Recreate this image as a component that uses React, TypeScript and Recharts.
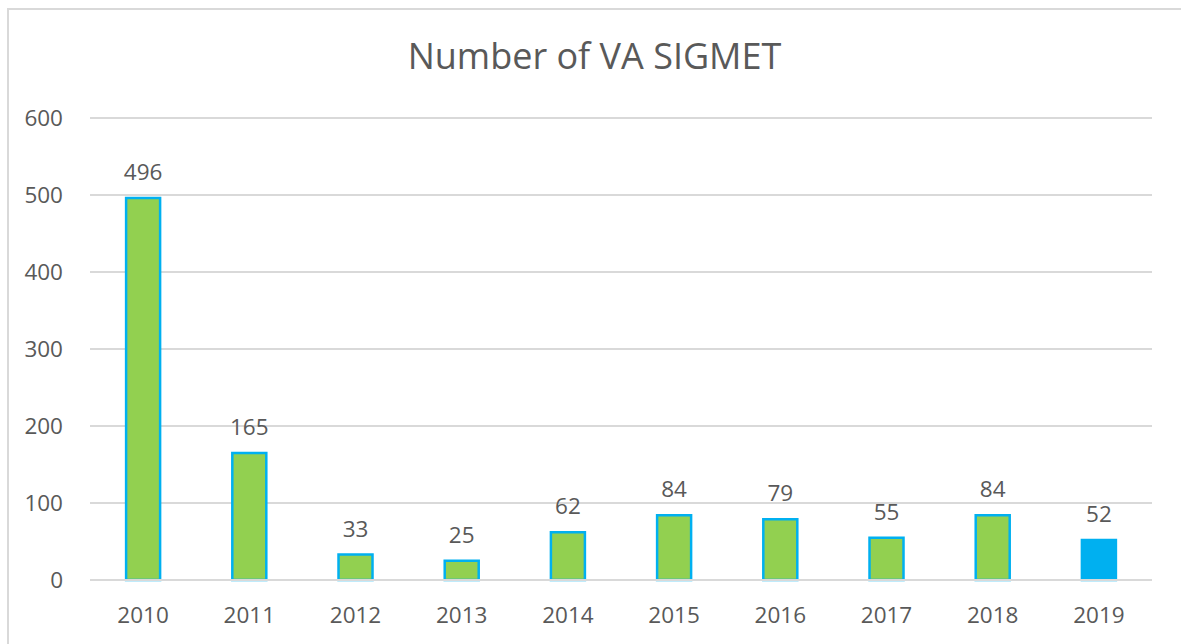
import React from "react";
import { BarChart, Bar, XAxis, YAxis, CartesianGrid, LabelList, Cell } from "recharts";

const years = ["2010", "2011", "2012", "2013", "2014", "2015", "2016", "2017", "2018", "2019"];
const counts = [496, 165, 33, 25, 62, 84, 79, 55, 84, 52];
const yTicks = [0, 100, 200, 300, 400, 500, 600];
const title = "Number of VA SIGMET";

const data = years.map((y, i) => ({ year: y, count: counts[i] }));

const FONT = "'Open Sans', 'Noto Sans', sans-serif";
const TEXT = "#595959";
const GREEN = "#92D050";
const BLUE = "#00B0F0";

export default function App() {
  return (
    <div style={{ position: "absolute", left: 0, top: 0, width: 1181, height: 644, background: "#fff", overflow: "hidden" }}>
      <div style={{ position: "absolute", left: 7, top: 8, width: 1200, height: 700, border: "2px solid #d9d9d9", boxSizing: "border-box" }} />
      <div style={{ position: "absolute", left: 4, top: 31, width: 1181, textAlign: "center", fontFamily: FONT, fontSize: 36, color: TEXT, whiteSpace: "nowrap" }}>
        {title}
      </div>
      <div style={{ position: "absolute", left: 0, top: 0 }}>
        <BarChart width={1181} height={644} data={data} margin={{ top: 118, right: 29, bottom: 24, left: 0 }} barCategoryGap="34%">
          <CartesianGrid vertical={false} stroke="#d9d9d9" strokeWidth={2} />
          <XAxis
            dataKey="year"
            height={40}
            axisLine={{ stroke: "#d9d9d9", strokeWidth: 2 }}
            tickLine={false}
            tickSize={0}
            tickMargin={27}
            tick={{ fill: TEXT, fontSize: 22.5, fontFamily: FONT }}
          />
          <YAxis
            width={90}
            domain={[0, 600]}
            ticks={yTicks}
            axisLine={false}
            tickLine={false}
            tickSize={0}
            tickMargin={27}
            tick={{ fill: TEXT, fontSize: 22.5, fontFamily: FONT }}
          />
          <Bar dataKey="count" fill={GREEN} stroke={BLUE} strokeWidth={2.5} isAnimationActive={false}>
            {data.map((d, i) => (
              <Cell key={d.year} fill={i === data.length - 1 ? BLUE : GREEN} />
            ))}
            <LabelList dataKey="count" position="top" offset={18} fill={TEXT} fontSize={22.5} fontFamily={FONT} />
          </Bar>
        </BarChart>
      </div>
    </div>
  );
}
